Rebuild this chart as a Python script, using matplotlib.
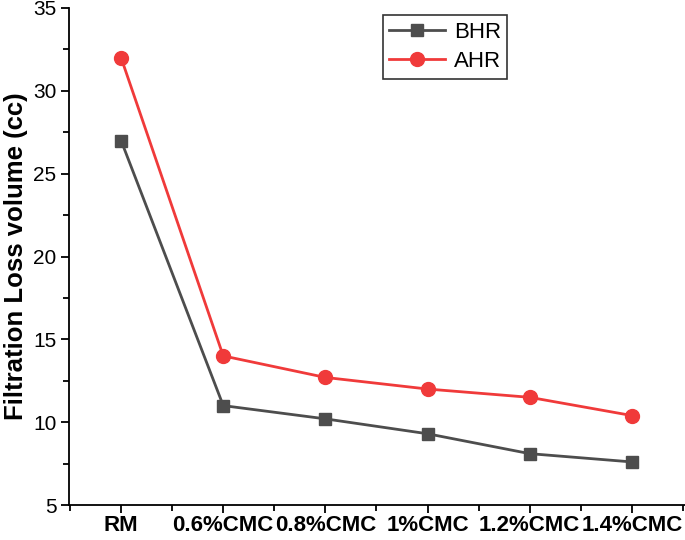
import numpy as np
import matplotlib.pyplot as plt
from matplotlib.ticker import MultipleLocator

plt.rcParams['font.family'] = ['Liberation Sans', 'DejaVu Sans']

categories = ['RM', '0.6%CMC', '0.8%CMC', '1%CMC', '1.2%CMC', '1.4%CMC']
bhr = [27, 11, 10.2, 9.3, 8.1, 7.6]
ahr = [32, 14, 12.7, 12.0, 11.5, 10.4]

fig = plt.figure(figsize=(6.85, 5.4), dpi=100)
ax = fig.add_axes([0.1007, 0.0648, 0.8993, 0.9204])

x = np.arange(len(categories))
ax.plot(x, bhr, color='#4d4d4d', lw=2, marker='s', ms=9, label='BHR')
ax.plot(x, ahr, color='#f03a3a', lw=2, marker='o', ms=10, label='AHR')

ax.set_xlim(-0.51, 5.52)
ax.set_ylim(5, 35)
ax.set_xticks(x)
ax.set_xticklabels(categories, fontweight='bold', fontsize=16)
ax.xaxis.set_minor_locator(MultipleLocator(0.5))
ax.yaxis.set_major_locator(MultipleLocator(5))
ax.yaxis.set_minor_locator(MultipleLocator(2.5))
ax.tick_params(axis='y', labelsize=15, pad=3)
ax.tick_params(axis='x', pad=1.5)
ax.tick_params(which='major', direction='out', length=6, width=1.3)
ax.tick_params(which='minor', direction='out', length=4, width=1.3)
ax.set_ylabel('Filtration Loss volume (cc)', fontweight='bold', fontsize=18.5,
              labelpad=4)

for s in ['top', 'right']:
    ax.spines[s].set_visible(False)
for s in ['left', 'bottom']:
    ax.spines[s].set_linewidth(1.3)

leg = ax.legend(loc='upper left', bbox_to_anchor=(0.509, 0.985), fontsize=16,
                frameon=True, fancybox=False, handlelength=2.5, borderpad=0.3,
                labelspacing=0.35, handletextpad=0.4, borderaxespad=0)
leg.get_frame().set_edgecolor('black')
leg.get_frame().set_linewidth(1.2)

fig.savefig('out.png', dpi=100)
